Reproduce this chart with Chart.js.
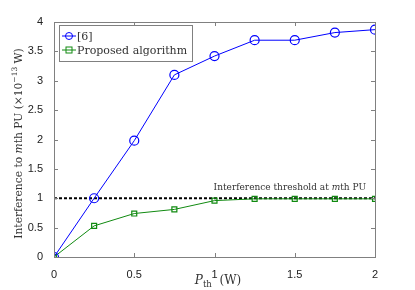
<!DOCTYPE html>
<html>
<head>
<meta charset="utf-8">
<script src="https://cdn.jsdelivr.net/npm/chart.js@4/dist/chart.umd.min.js"></script>
<style>
  html, body { margin: 0; padding: 0; background: #fff; }
  #wrap { width: 415px; height: 290px; }
</style>
</head>
<body>
<div id="wrap"><canvas id="chart" width="415" height="290"></canvas></div>
<script>
// 데이터
const pth = [0, 0.25, 0.5, 0.75, 1, 1.25, 1.5, 1.75, 2];
const ref6 = [0, 1.0, 1.98, 3.1, 3.42, 3.69, 3.69, 3.82, 3.87];
const proposed = [0, 0.53, 0.74, 0.81, 0.96, 0.99, 0.99, 0.99, 0.99];
const threshold = 1;
const seriesNames = ['[6]', 'Proposed algorithm'];

const serif = '"DejaVu Serif", "Liberation Serif", serif';
const sans = '"Liberation Sans", Arial, sans-serif';

// 여러 글꼴 조각을 이어서 그리기
function richText(ctx, parts, x, y, align) {
  let total = 0;
  parts.forEach(p => { ctx.font = p.font; total += ctx.measureText(p.text).width; });
  let cx = align === 'center' ? x - total / 2 : (align === 'right' ? x - total : x);
  ctx.textAlign = 'left';
  ctx.textBaseline = 'alphabetic';
  parts.forEach(p => {
    ctx.font = p.font;
    ctx.fillText(p.text, cx, y + (p.dy || 0));
    cx += ctx.measureText(p.text).width;
  });
}

const decor = {
  id: 'decor',
  afterDraw(chart) {
    const ctx = chart.ctx;
    const a = chart.chartArea;
    const xs = chart.scales.x, ys = chart.scales.y;
    ctx.save();
    // 축 박스
    ctx.strokeStyle = '#808080';
    ctx.lineWidth = 1;
    ctx.strokeRect(Math.round(a.left) + 0.5, Math.round(a.top) + 0.5,
      Math.round(a.right - a.left), Math.round(a.bottom - a.top));
    // 안쪽 눈금
    ctx.beginPath();
    xs.ticks.forEach(t => {
      const px = Math.round(xs.getPixelForValue(t.value)) + 0.5;
      ctx.moveTo(px, a.bottom); ctx.lineTo(px, a.bottom - 4);
      ctx.moveTo(px, a.top); ctx.lineTo(px, a.top + 4);
    });
    ys.ticks.forEach(t => {
      const py = Math.round(ys.getPixelForValue(t.value)) + 0.5;
      ctx.moveTo(a.left, py); ctx.lineTo(a.left + 4, py);
      ctx.moveTo(a.right, py); ctx.lineTo(a.right - 4, py);
    });
    ctx.stroke();

    ctx.fillStyle = '#333';
    // 임계값 표시 문구
    const ty = ys.getPixelForValue(threshold) - 8;
    richText(ctx, [
      { text: 'Interference threshold at ', font: '9px ' + serif },
      { text: 'm', font: 'italic 9px ' + serif },
      { text: 'th PU', font: '9px ' + serif }
    ], xs.getPixelForValue(2) - 9, ty, 'right');

    // x축 제목
    richText(ctx, [
      { text: 'P', font: 'italic 12px ' + serif },
      { text: 'th', font: '8.5px ' + serif, dy: 3 },
      { text: '  (W)', font: '12px ' + serif }
    ], 218, 284, 'center');

    // y축 제목
    ctx.save();
    ctx.translate(22, (a.top + a.bottom) / 2 + 4);
    ctx.rotate(-Math.PI / 2);
    richText(ctx, [
      { text: 'Interference to ', font: '10.7px ' + serif },
      { text: 'm', font: 'italic 10.7px ' + serif },
      { text: 'th PU (\u00d710', font: '10.7px ' + serif },
      { text: '\u221213', font: '7.5px ' + serif, dy: -5 },
      { text: ' W)', font: '10.7px ' + serif }
    ], 0, 0, 'center');
    ctx.restore();

    // 범례
    const lx = a.left + 5, ly = a.top + 3, lw = 133, lh = 36;
    ctx.fillStyle = '#fff';
    ctx.fillRect(lx, ly, lw, lh);
    ctx.strokeStyle = '#808080';
    ctx.strokeRect(lx + 0.5, ly + 0.5, lw, lh);
    chart.data.datasets.slice(0, 2).forEach((ds, i) => {
      const cy = ly + 11 + i * 14;
      ctx.strokeStyle = ds.borderColor;
      ctx.lineWidth = 1;
      ctx.beginPath();
      ctx.moveTo(lx + 3, cy); ctx.lineTo(lx + 17, cy);
      ctx.stroke();
      ctx.beginPath();
      if (ds.pointStyle === 'rect') {
        ctx.strokeRect(lx + 7, cy - 3, 6, 6);
      } else {
        ctx.arc(lx + 10, cy, 3.5, 0, Math.PI * 2);
        ctx.stroke();
      }
      ctx.fillStyle = '#333';
      ctx.font = '11px ' + serif;
      ctx.textAlign = 'left';
      ctx.textBaseline = 'middle';
      ctx.fillText(ds.label, lx + 18, cy + 1);
    });
    ctx.restore();
  }
};

const toXY = arr => arr.map((v, i) => ({ x: pth[i], y: v }));

new Chart(document.getElementById('chart'), {
  type: 'line',
  data: {
    datasets: [
      {
        label: seriesNames[0],
        data: toXY(ref6),
        borderColor: '#0000ff',
        borderWidth: 1,
        pointStyle: 'circle',
        pointRadius: 4.5,
        pointBorderWidth: 1.2,
        pointBackgroundColor: 'rgba(0,0,0,0)',
        pointBorderColor: '#0000ff'
      },
      {
        label: seriesNames[1],
        data: toXY(proposed),
        borderColor: '#108a10',
        borderWidth: 1,
        pointStyle: 'rect',
        pointRadius: 3.5,
        pointBorderWidth: 1.2,
        pointBackgroundColor: 'rgba(0,0,0,0)',
        pointBorderColor: '#108a10'
      },
      {
        label: 'threshold',
        data: [{ x: pth[0], y: threshold }, { x: pth[pth.length - 1], y: threshold }],
        borderColor: '#000',
        borderWidth: 2,
        borderDash: [3, 2],
        pointRadius: 0
      }
    ]
  },
  options: {
    responsive: false,
    animation: false,
    layout: { padding: { top: 22, right: 40, left: 0, bottom: 0 } },
    plugins: { legend: { display: false }, tooltip: { enabled: false } },
    scales: {
      x: {
        type: 'linear', min: 0, max: 2,
        grid: { display: false },
        border: { display: false },
        ticks: { stepSize: 0.5, padding: 3, color: '#222', font: { family: sans, size: 11 },
          callback: v => String(v) },
        afterFit: s => { s.height = 33; }
      },
      y: {
        min: 0, max: 4,
        grid: { display: false },
        border: { display: false },
        ticks: { stepSize: 0.5, padding: 3, color: '#222', font: { family: sans, size: 11 },
          callback: v => String(v) },
        afterFit: s => { s.width = 54; }
      }
    }
  },
  plugins: [decor]
});
</script>
</body>
</html>
